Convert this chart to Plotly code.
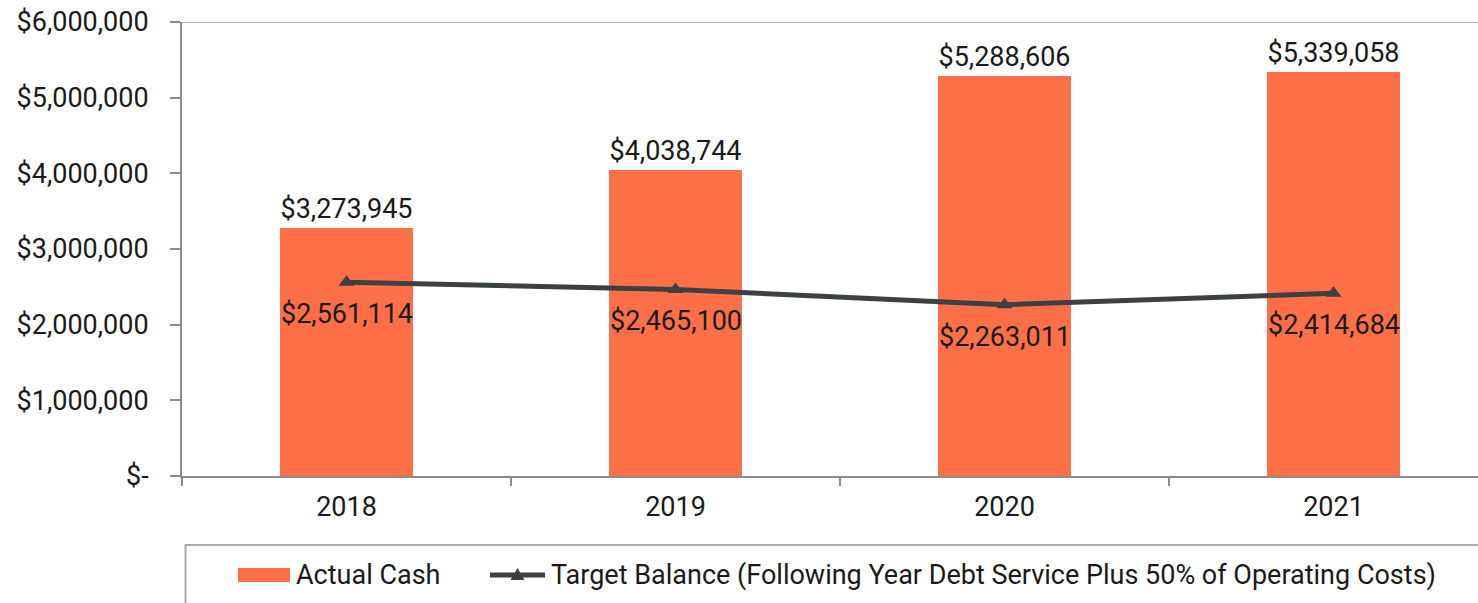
import plotly.graph_objects as go

years = ["2018", "2019", "2020", "2021"]
actual_cash = [3273945, 4038744, 5288606, 5339058]
target_balance = [2561114, 2465100, 2263011, 2414684]
y_ticks = [0, 1000000, 2000000, 3000000, 4000000, 5000000, 6000000]
y_tick_text = ["$-", "$1,000,000", "$2,000,000", "$3,000,000",
               "$4,000,000", "$5,000,000", "$6,000,000"]
bar_name = "Actual Cash"
line_name = "Target Balance (Following Year Debt Service Plus 50% of Operating Costs)"

BAR_COLOR = "#FF7049"
LINE_COLOR = "#3B4045"
TEXT_COLOR = "#1a1a1a"
AXIS_COLOR = "#8c8c8c"
FONT = "Roboto"
FS = 27

W, H = 1478, 603
ML, MR, MT, MB = 182, 0, 22, 127
PW = W - ML - MR
PH = H - MT - MB
CAT_PX = 329  # width of one category slot in pixels


def money(v):
    return "${:,.0f}".format(v)


def px_x(px):
    return (px - ML) / PW


def px_y(py):
    return (H - MB - py) / PH


fig = go.Figure()

fig.add_trace(go.Bar(
    x=years, y=actual_cash, name=bar_name,
    marker=dict(color=BAR_COLOR, line=dict(width=0)),
    width=0.405,
    text=[money(v) for v in actual_cash],
    textposition="outside",
    textfont=dict(family=FONT, size=FS, color=TEXT_COLOR),
    cliponaxis=False,
    showlegend=False,
))

fig.add_trace(go.Scatter(
    x=years, y=target_balance, name=line_name,
    mode="lines+markers",
    line=dict(color=LINE_COLOR, width=5),
    marker=dict(symbol="triangle-up", size=14, color=LINE_COLOR),
    showlegend=False,
))

# value labels under the target line (category positions by index)
for i, v in enumerate(target_balance):
    fig.add_annotation(
        x=i, y=v, xref="x", yref="y", text=money(v), showarrow=False,
        yshift=-32, yanchor="middle", xanchor="center",
        font=dict(family=FONT, size=FS, color=TEXT_COLOR),
    )

shapes = []
# top border at the axis maximum
shapes.append(dict(type="line", xref="paper", yref="y", x0=0, x1=1,
                   y0=y_ticks[-1], y1=y_ticks[-1],
                   line=dict(color="#b0b0b0", width=2), layer="below"))

# legend box
shapes.append(dict(type="rect", xref="paper", yref="paper",
                   x0=px_x(185.5), x1=px_x(1500), y0=px_y(545), y1=px_y(630),
                   line=dict(color="#ababab", width=2), fillcolor="rgba(0,0,0,0)"))
# bar swatch
shapes.append(dict(type="rect", xref="paper", yref="paper",
                   x0=px_x(238), x1=px_x(290), y0=px_y(568), y1=px_y(582),
                   line=dict(width=0), fillcolor=BAR_COLOR))
# line swatch
shapes.append(dict(type="line", xref="paper", yref="paper",
                   x0=px_x(490), x1=px_x(545), y0=px_y(575), y1=px_y(575),
                   line=dict(color=LINE_COLOR, width=5)))
shapes.append(dict(type="path", xref="paper", yref="paper",
                   xsizemode="pixel", ysizemode="pixel",
                   xanchor=px_x(517.5), yanchor=px_y(575),
                   path="M -7,-5 L 7,-5 L 0,7 Z",
                   fillcolor=LINE_COLOR, line=dict(width=0)))

fig.add_annotation(xref="paper", yref="paper", x=px_x(294), y=px_y(575),
                   text=bar_name, showarrow=False, xanchor="left", yanchor="middle",
                   font=dict(family=FONT, size=FS, color=TEXT_COLOR))
fig.add_annotation(xref="paper", yref="paper", x=px_x(549), y=px_y(575),
                   text=line_name, showarrow=False, xanchor="left", yanchor="middle",
                   font=dict(family=FONT, size=FS, color=TEXT_COLOR))

fig.update_layout(
    width=W, height=H,
    margin=dict(l=ML, r=MR, t=MT, b=MB, pad=0),
    paper_bgcolor="white", plot_bgcolor="white",
    font=dict(family=FONT, size=FS, color=TEXT_COLOR),
    shapes=shapes,
    bargap=0,
    xaxis=dict(
        type="category",
        range=[-0.5, -0.5 + PW / CAT_PX],
        showline=True, linecolor=AXIS_COLOR, linewidth=2,
        ticks="outside", tickson="boundaries", ticklen=8,
        tickcolor=AXIS_COLOR, tickwidth=2,
        showgrid=False, zeroline=False,
        tickfont=dict(family=FONT, size=FS, color=TEXT_COLOR),
        ticklabelstandoff=6,
    ),
    yaxis=dict(
        range=[0, 6000000],
        tickmode="array", tickvals=y_ticks, ticktext=y_tick_text,
        showline=True, linecolor=AXIS_COLOR, linewidth=2,
        ticks="outside", ticklen=10, tickcolor=AXIS_COLOR, tickwidth=2,
        showgrid=False, zeroline=False,
        tickfont=dict(family=FONT, size=FS, color=TEXT_COLOR),
        ticklabelstandoff=16,
    ),
)

fig.write_html("out.html")
